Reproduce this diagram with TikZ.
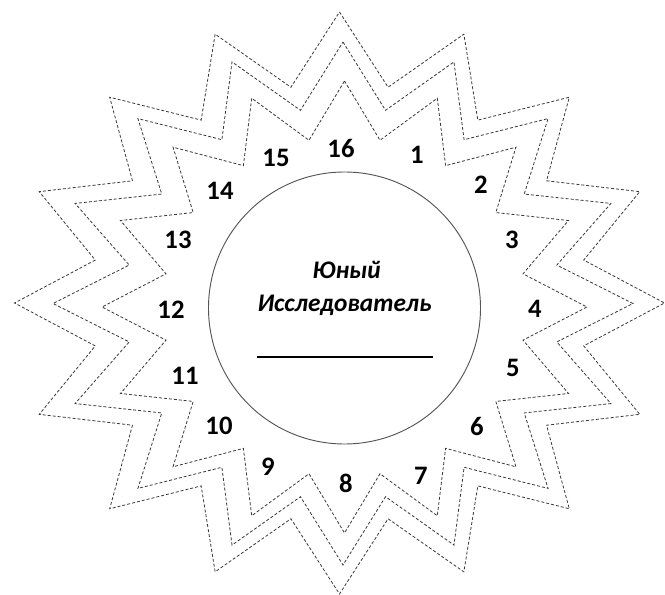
\documentclass[tikz,border=0pt]{standalone}
\usepackage{fontspec}
\setmainfont{Carlito}
\usepackage{tikz}
\usepackage{xcolor}
\definecolor{cutgray}{RGB}{55,55,55}
\definecolor{ringgray}{RGB}{85,85,85}

% one dashed star: centre x, centre y, tip radii x/y, notch radii x/y
\newcommand{\sunstar}[6]{%
\draw[cutline] (#1,{#2-#4})
\foreach \k in {1,...,31}{
-- ({#1+(mod(\k,2)==0 ? #3 : #5)*sin(\k*11.25)},{#2-(mod(\k,2)==0 ? #4 : #6)*cos(\k*11.25)})
} -- cycle;}

\tikzset{
cutline/.style={cutgray, line width=0.6pt, dash pattern=on 2.25pt off 1.5pt},
ray/.style={font=\bfseries\fontsize{20}{22}\selectfont},
badge/.style={font=\bfseries\itshape\fontsize{19}{21}\selectfont, anchor=base}
}

\begin{document}
\begin{tikzpicture}[x=0.75pt,y=-0.75pt]

% Frame
\useasboundingbox (0,0) rectangle (665,595);

% Stars (outer, middle, inner)
\sunstar{339.5}{303}{325}{291}{249}{220}
\sunstar{343}{303.5}{290}{261.5}{218}{197}
\sunstar{344.5}{307}{242.5}{226}{182}{170}

% Centre circle
\draw[ringgray, line width=0.7pt] (344.5,308) circle (136);

% Title
\node[badge] (title1) at (346.5,279) {Юный};
\node[badge] (title2) at (344.5,312) {Исследователь};

% Name line
\draw[line width=0.8pt] (257,357) -- (433,357);

% Numbers
\foreach \i/\x/\y in {
1/417/155,
2/481/185,
3/512/240,
4/535/309,
5/513/368,
6/477/426,
7/421/476,
8/346/483,
9/268/467,
10/219/426,
11/185/376,
12/171/310,
13/178/240,
14/220/191,
15/276/158,
16/341/148
}{
\node[ray] (n\i) at (\x,\y) {\i};
}

\end{tikzpicture}
\end{document}
